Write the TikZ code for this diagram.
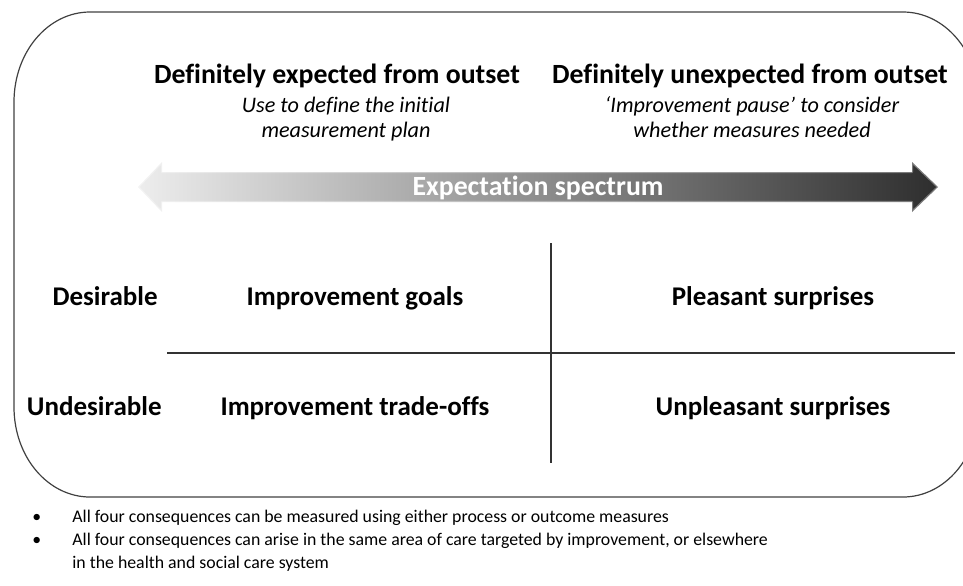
\documentclass[tikz,border=0pt]{standalone}
\usepackage{fontspec}
\setmainfont{Carlito}[Ligatures=NoCommon]

\begin{document}
\begin{tikzpicture}[x=0.5pt, y=-0.5pt,
    head/.style={font=\bfseries\fontsize{13.9}{15}\selectfont, anchor=base, inner sep=0pt},
    note/.style={font=\itshape\fontsize{11.1}{12.5}\selectfont, align=center, anchor=base, inner sep=0pt},
    cell/.style={font=\bfseries\fontsize{13.5}{15}\selectfont, anchor=base, inner sep=0pt},
    bullet/.style={font=\fontsize{8.9}{11.5}\selectfont, align=left, anchor=base west, inner sep=0pt},
    rule/.style={draw=black!80, line width=0.7pt}]
  \useasboundingbox (0, 0) rectangle (963, 585);
  \clip (0, 0) rectangle (963, 585);

  \draw [black!75, line width=0.6pt] (90, 12) -- (903, 12)
    .. controls (945, 12) and (979, 52) .. (979, 102) -- (979, 407)
    .. controls (979, 457) and (945, 497) .. (903, 497) -- (90, 497)
    .. controls (48, 497) and (14, 457) .. (14, 407) -- (14, 102)
    .. controls (14, 52) and (48, 12) .. cycle;

  \node [head] (expected) at (337, 83) {Definitely expected from outset};
  \node [head] (unexpected) at (750, 83) {Definitely unexpected from outset};
  % two-line notes sit on the baseline of their last line
  \node [note] (plan) at (346, 137) {Use to define the initial\\measurement plan};
  \node [note] (pause) at (752, 137) {‘Improvement pause’ to consider\\whether measures needed};

  \shade [left color=black!7, right color=black!82]
    (138, 187) -- (162, 162) -- (162, 172) -- (912, 172) -- (912, 162)
    -- (938, 187) -- (912, 212) -- (912, 202) -- (162, 202) -- (162, 212) -- cycle;
  % soften the outline a little
  \draw [white, opacity=0.35, line width=1.2pt, line join=round]
    (138, 187) -- (162, 162) -- (162, 172) -- (912, 172) -- (912, 162)
    -- (938, 187) -- (912, 212) -- (912, 202) -- (162, 202) -- (162, 212) -- cycle;
  \node [head, white] (spectrum) at (538, 195) {Expectation spectrum};

  \coordinate (vtop) at (551, 243);
  \coordinate (vbot) at (551, 463);
  \coordinate (hleft) at (167, 353);
  \coordinate (hright) at (955, 353);
  \draw [rule] (vtop) -- (vbot);
  \draw [rule] (hleft) -- (hright);

  \node [cell, anchor=base east] (desirable) at (158, 305) {Desirable};
  \node [cell, anchor=base east] (undesirable) at (162, 415) {Undesirable};
  \node [cell] (goals) at (355, 305) {Improvement goals};
  \node [cell] (pleasant) at (773, 305) {Pleasant surprises};
  \node [cell] (tradeoffs) at (355, 415) {Improvement trade-offs};
  \node [cell] (unpleasant) at (773, 415) {Unpleasant surprises};

  \node [bullet] (dot1) at (32, 522) {•};
  \node [bullet] (dot2) at (32, 545) {•};
  \node [bullet] (measured) at (72, 522) {All four consequences can be measured using either process or outcome measures};
  \node [bullet] (arise) at (72, 568) {All four consequences can arise in the same area of care targeted by improvement, or elsewhere\\in the health and social care system};
\end{tikzpicture}
\end{document}
